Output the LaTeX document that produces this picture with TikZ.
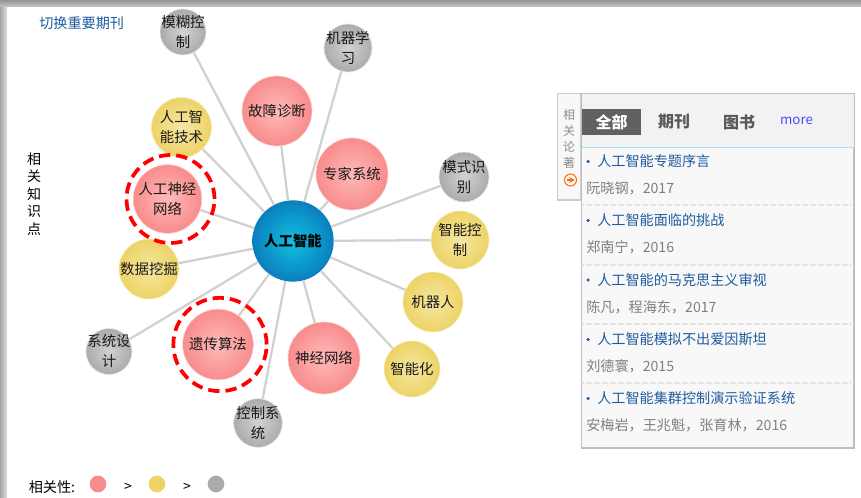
\documentclass[tikz,border=0pt]{standalone}
\usepackage{fontspec}
\setmainfont{Noto Sans CJK SC}
\usetikzlibrary{calc,positioning,shadings}
\definecolor{linkblue}{HTML}{1F5C9E}
\definecolor{greytext}{HTML}{808080}
\definecolor{panelbg}{HTML}{F8F8F8}
\definecolor{redin}{HTML}{FFB9B9}
\definecolor{redout}{HTML}{F88C8C}
\definecolor{yellowin}{HTML}{F5E7A3}
\definecolor{yellowout}{HTML}{EDD365}
\definecolor{greyin}{HTML}{D2D2D2}
\definecolor{greyout}{HTML}{ABABAB}
\definecolor{bluein}{HTML}{10C0E0}
\definecolor{blueout}{HTML}{0A7FBE}
\newcommand{\bubblefont}{\fontsize{10.8}{15}\selectfont}
\newcommand{\listfont}{\fontsize{10.6}{14}\selectfont}
\tikzset{
  bubble/.style={circle,inner sep=-14pt,align=center,font=\bubblefont,text=black!90},
  redbubble/.style={bubble,inner color=redin,outer color=redout,draw=redout!40!white,line width=.5pt},
  yellowbubble/.style={bubble,inner color=yellowin,outer color=yellowout,draw=yellowout!40!white,line width=.5pt},
  greybubble/.style={bubble,inner color=greyin,outer color=greyout,draw=black!10,line width=.5pt},
  link/.style={draw=black!18,line width=1.7pt},
  ring/.style={circle,draw=red,line width=2.8pt,dash pattern=on 8.5pt off 4.5pt,inner sep=0pt},
  title/.style={anchor=west,inner sep=0pt,font=\listfont,text=linkblue},
  author/.style={anchor=west,inner sep=0pt,font=\listfont,text=greytext},
  sep/.style={draw=black!15,line width=1pt,densely dotted},
  tab/.style={inner sep=0pt,font=\bfseries\fontsize{12}{14}\selectfont,text=black!65}
}
\begin{document}
\begin{tikzpicture}[x=.75pt,y=-.75pt]
  \useasboundingbox (0,0) rectangle (861,498);
  % window edge
  \fill[white] (0,0) rectangle (861,498);
  \shade[left color=black!35,right color=black!12] (0,0) rectangle (7,498);
  \shade[top color=black!42,bottom color=black!22] (0,0) rectangle (861,7);

  \node [anchor=west,inner sep=0pt,font=\fontsize{10.6}{12}\selectfont,text=linkblue] (switch) at (39,23) {切换重要期刊};
  \node [align=center,inner sep=0pt,font=\fontsize{10.5}{13.2}\selectfont] (side) at (34,194) {相\\关\\知\\识\\点};

  % bubbles
  \node [circle,minimum size=61pt,inner sep=-8pt,inner color=bluein,outer color=blueout,
    font=\bfseries\bubblefont] (centre) at (293,241) {人工智能};
  \node [greybubble,minimum size=34.5pt] (fuzzy) at (183,32) {模糊控\\制};
  \node [greybubble,minimum size=36pt] (learn) at (348,48) {机器学\\习};
  \node [redbubble,minimum size=52.5pt] (fault) at (277,111) {故障诊断};
  \node [redbubble,minimum size=54pt] (expert) at (352,174) {专家系统};
  \node [yellowbubble,minimum size=45pt] (aitech) at (181.5,127.5) {人工智\\能技术};
  \node [redbubble,minimum size=51.5pt] (ann) at (167.5,199) {人工神经\\网络};
  \node [greybubble,minimum size=37.5pt] (pattern) at (464,177) {模式识\\别};
  \node [yellowbubble,minimum size=43.5pt] (control) at (460,240) {智能控\\制};
  \node [yellowbubble,minimum size=45pt] (mining) at (149,269) {数据挖掘};
  \node [yellowbubble,minimum size=45pt] (robot) at (433,302) {机器人};
  \node [greybubble,minimum size=34.5pt] (sysdes) at (109,351.5) {系统设\\计};
  \node [redbubble,minimum size=53pt] (genetic) at (218,344.5) {遗传算法};
  \node [redbubble,minimum size=54pt] (neural) at (324,358) {神经网络};
  \node [yellowbubble,minimum size=42pt] (smart) at (412,369) {智能化};
  \node [greybubble,minimum size=36.5pt] (ctrlsys) at (258,423) {控制系\\统};

  \draw[link] (centre) -- (fuzzy);
  \draw[link] (centre) -- (learn);
  \draw[link] (centre) -- (fault);
  \draw[link] (centre) -- (expert);
  \draw[link] (centre) -- (aitech);
  \draw[link] (centre) -- (ann);
  \draw[link] (centre) -- (pattern);
  \draw[link] (centre) -- (control);
  \draw[link] (centre) -- (mining);
  \draw[link] (centre) -- (robot);
  \draw[link] (centre) -- (sysdes);
  \draw[link] (centre) -- (genetic);
  \draw[link] (centre) -- (neural);
  \draw[link] (centre) -- (smart);
  \draw[link] (centre) -- (ctrlsys);

  \node [ring,minimum size=66pt] (annring) at (170.5,199) {};
  \node [ring,minimum size=70pt] (geneticring) at (220,344.5) {};

  % legend
  \node [inner sep=0pt,font=\fontsize{10.6}{12}\selectfont] (legend) at (52,487) {相关性:};
  \node [circle,minimum size=12.5pt,inner sep=0pt,fill=redout] (legendred) at (98,484) {};
  \node [circle,minimum size=12.5pt,inner sep=0pt,fill=yellowout] (legendyellow) at (157,484) {};
  \node [circle,minimum size=12.5pt,inner sep=0pt,fill=greyout] (legendgrey) at (216,484) {};
  \node [inner sep=0pt,font=\fontsize{10.5}{11}\selectfont] (gtone) at (128,487) {>};
  \node [inner sep=0pt,font=\fontsize{10.5}{11}\selectfont] (gttwo) at (187,487) {>};

  % side tab
  \draw[black!20,line width=.8pt,fill=panelbg] (557.5,93.5) rectangle (581,200);
  \node [align=center,inner sep=0pt,text=black!45,font=\fontsize{9}{11.8}\selectfont] (tabtext) at (569,139) {相\\关\\论\\著};
  \node [circle,draw=orange!85!red,line width=.8pt,minimum size=9pt,inner sep=0pt,fill=white] (tabicon) at (570.5,180) {};
  \draw[->,>=stealth,orange!85!red,line width=.8pt] ([xshift=-3pt]tabicon.center) -- ([xshift=3.2pt]tabicon.center);

  % list panel
  \draw[black!25,line width=.8pt,fill=panelbg] (581.5,93.5) rectangle (854,448);
  \fill[black!5] (582,94) rectangle (853.5,147);
  \draw[blue!30!cyan!35,line width=.6pt] (582,147.5) -- (853.5,147.5);
  \node [fill=black!62,minimum width=44pt,minimum height=19.5pt,inner sep=0pt,text=white,
    font=\bfseries\fontsize{12}{14}\selectfont] (all) at (611.5,122) {全部};
  \node [tab] (journal) at (674,122) {期刊};
  \node [tab] (book) at (739,122) {图书};
  \node [inner sep=0pt,text=blue!70!white,font=\fontsize{10}{12}\selectfont] (more) at (796.5,120.5) {more};

  \node [title] (tone) at (597,161.5) {人工智能专题序言};
  \node [author] (aone) at (586,188.5) {阮晓钢，2017};
  \node [title] (ttwo) at (597,220.5) {人工智能面临的挑战};
  \node [author] (atwo) at (586,247.5) {郑南宁，2016};
  \node [title] (tthree) at (597,280) {人工智能的马克思主义审视};
  \node [author] (athree) at (586,307) {陈凡，程海东，2017};
  \node [title] (tfour) at (597,339.5) {人工智能模拟不出爱因斯坦};
  \node [author] (afour) at (586,366.5) {刘德寰，2015};
  \node [title] (tfive) at (597,398.5) {人工智能集群控制演示验证系统};
  \node [author] (afive) at (586,425.5) {安梅岩，王兆魁，张育林，2016};

  \fill[linkblue] ([xshift=-6.7pt]tone.west) circle (1.3pt);
  \fill[linkblue] ([xshift=-6.7pt]ttwo.west) circle (1.3pt);
  \fill[linkblue] ([xshift=-6.7pt]tthree.west) circle (1.3pt);
  \fill[linkblue] ([xshift=-6.7pt]tfour.west) circle (1.3pt);
  \fill[linkblue] ([xshift=-6.7pt]tfive.west) circle (1.3pt);

  \draw[sep] (583,205) -- (851,205);
  \draw[sep] (583,265) -- (851,265);
  \draw[sep] (583,324) -- (851,324);
  \draw[sep] (583,383) -- (851,383);
\end{tikzpicture}
\end{document}
